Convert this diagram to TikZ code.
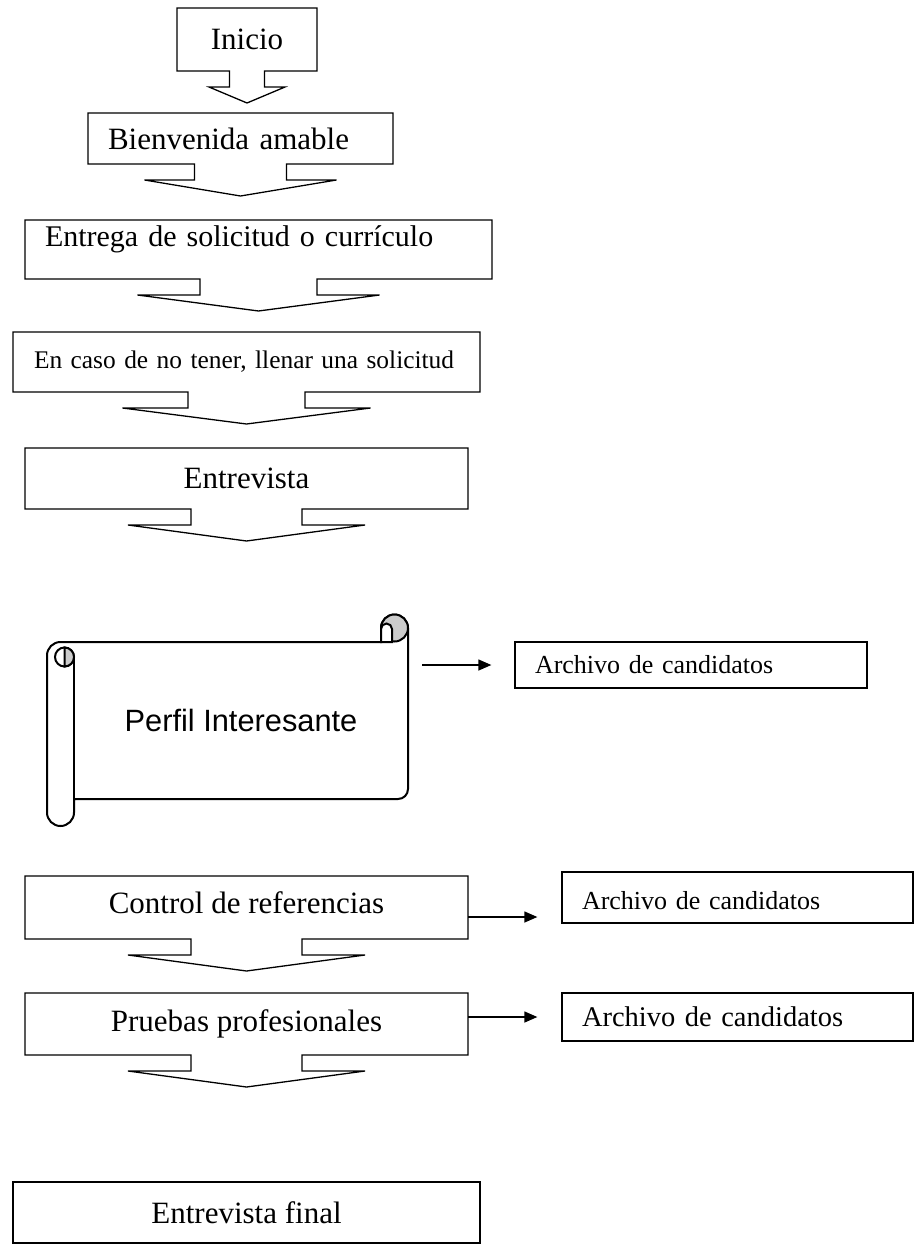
\documentclass[tikz,border=0pt]{standalone}
\usepackage{fontspec}
\setmainfont{Liberation Serif}
\newfontfamily\arialfont{Liberation Sans}
\usetikzlibrary{positioning,arrows.meta}

\begin{document}
\begin{tikzpicture}[x=1pt,y=-1pt,>={Triangle[length=13pt,width=11pt]},
  paso/.style={inner sep=0pt,outer sep=0pt,font=\fontsize{31}{36}\selectfont},
  archivo/.style={draw,line width=1.3pt,inner sep=0pt,font=\fontsize{26}{30}\selectfont,align=left}]
\useasboundingbox (0,0) rectangle (919,1247);

% pasos con flecha hacia abajo
\node[paso,minimum width=140pt,minimum height=63pt] (inicio) at (247,39.5) {Inicio};
\node[paso,minimum height=51pt,text width=265pt,inner xsep=20pt,align=left] (bien) at (240.5,138.5) {Bienvenida amable};
\node[paso,minimum height=59pt,text width=427pt,inner xsep=20pt,align=left,text depth=26pt,font=\fontsize{30}{36}\selectfont] (entrega) at (258.5,249.5) {Entrega de solicitud o currículo};
\node[paso,minimum height=60pt,text width=425pt,inner xsep=21pt,align=left,font=\fontsize{25.4}{30}\selectfont] (caso) at (246.5,362) {En caso de no tener, llenar una solicitud};
\node[paso,minimum width=443pt,minimum height=61pt] (entrev) at (246.5,478.5) {Entrevista};
\node[paso,minimum width=443pt,minimum height=63pt,text depth=10pt] (control) at (246.5,907.5) {Control de referencias};
\node[paso,minimum width=443pt,minimum height=62pt] (pruebas) at (246.5,1024) {Pruebas profesionales};
\node[paso,draw,line width=1.3pt,minimum width=467pt,minimum height=61pt] (final) at (246.5,1212.5) {Entrevista final};

\foreach \n/\s/\w in {inicio/17.5/38,bien/46/96,entrega/58.5/121,caso/58.5/124,entrev/55.5/118.5,control/55.5/118.5,pruebas/55.5/118.5}
  \draw[line width=1.3pt] (\n.south west) -- (\n.north west) -- (\n.north east) -- (\n.south east)
    -- ([xshift=\s pt]\n.south) -- ++(0,16) -- ++({\w-\s},0) -- ([yshift=-32pt]\n.south)
    -- ++(-\w,-16) -- ++({\w-\s},0) -- ++(0,-16) -- cycle;

% pergamino
\filldraw[fill=white,line width=2pt] (47,812.5) -- (47,655.5) arc[start angle=180,end angle=270,radius=13.5]
  -- (381,642) -- (381,628) arc[start angle=180,end angle=360,radius=13.5]
  -- (408,789) arc[start angle=0,end angle=90,radius=10]
  -- (74,799) -- (74,812.5) arc[start angle=0,end angle=180,radius=13.5] -- cycle;
\draw[line width=2pt] (74,657) -- (74,799);
\draw[line width=2pt] (64.5,657) circle (9.5);
\filldraw[fill=gray!40,line width=2pt] (64.5,666.5) arc[start angle=90,end angle=-90,radius=9.5] -- cycle;
\filldraw[fill=gray!40,line width=2pt] (394.5,628) circle (13.5);
\filldraw[fill=white,line width=2pt] (381,642) -- (381,629) arc[start angle=180,end angle=360,radius=5.5] -- (392,642) -- cycle;
\node[inner sep=0pt,minimum width=334pt,minimum height=157pt,font=\arialfont\fontsize{30.8}{36}\selectfont] (perfil) at (241,720.5) {Perfil Interesante};

% archivo
\node[archivo,minimum width=352pt,minimum height=46pt,text width=312pt,inner xsep=20pt] (arch1) at (691,665) {Archivo de candidatos};
\node[archivo,minimum width=351pt,minimum height=51pt,text width=311pt,inner xsep=20pt,text height=25pt] (arch2) at (737.5,897.5) {Archivo de candidatos};
\node[archivo,minimum width=351pt,minimum height=48pt,text width=311pt,inner xsep=20pt,font=\fontsize{28.5}{32}\selectfont] (arch3) at (737.5,1017) {Archivo de candidatos};

\draw[->,line width=1.3pt,shorten <=14pt,shorten >=23pt] (perfil.east |- arch1.west) -- (arch1.west);
\coordinate (c2) at ([yshift=-9.5pt]control.east);
\draw[->,line width=1.3pt,shorten >=24pt] (c2) -- (c2 -| arch2.west);
\draw[->,line width=1.3pt,shorten >=24pt] (pruebas.east |- arch3.west) -- (arch3.west);
\end{tikzpicture}
\end{document}
